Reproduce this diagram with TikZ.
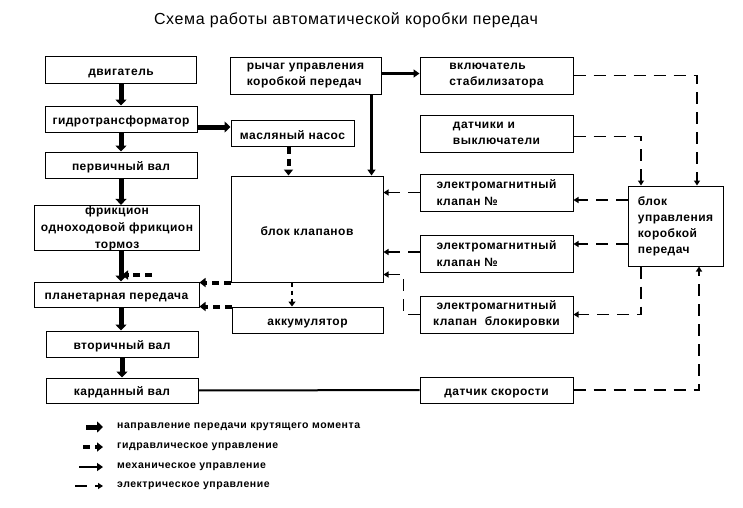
\documentclass[tikz,border=0pt]{standalone}
\usepackage{fontspec}
\setmainfont{Liberation Sans}
\newfontfamily\spacedfont[LetterSpace=4]{Liberation Sans}
\newfontfamily\legendfont[LetterSpace=5]{Liberation Sans}
\usetikzlibrary{arrows.meta,positioning,calc}

\tikzset{
  box/.style 2 args={draw,line width=1pt,minimum width=#1,minimum height=#2,
    inner sep=1pt,align=left,font=\spacedfont\bfseries\fontsize{12}{16.5}\selectfont,
    execute at begin node={\rule{0pt}{12.5pt}}},
  torque/.style={line width=5pt,-{Triangle[width=11pt,length=6pt]}},
  hydr/.style={line width=4pt,dash pattern=on 7pt off 5pt,-{Triangle[width=9pt,length=6pt]}},
  hydrthin/.style={line width=2.5pt,dash pattern=on 4pt off 4pt,-{Triangle[width=7pt,length=5pt]}},
  mech/.style={line width=2.5pt,-{Triangle[width=8pt,length=6pt]}},
  elec/.style={line width=1.6pt,dash pattern=on 12pt off 8pt,-{Triangle[width=6pt,length=5pt]}},
  legtext/.style={anchor=west,inner sep=0pt,font=\legendfont\bfseries\fontsize{10.5}{12}\selectfont}
}

\begin{document}
\begin{tikzpicture}[x=1pt,y=-1pt]
  \fill[white] (0,0) rectangle (743,507);
  \useasboundingbox (0,0) rectangle (743,507);

  \node[font=\spacedfont\fontsize{16}{19}\selectfont] (title) at (346,20) {Схема работы автоматической коробки передач};

  % left column
  \node[box={165pt}{44pt},align=center,execute at begin node={},inner sep=0pt] (frik) at (117,228) {фрикцион\\[0.5pt]одноходовой фрикцион\\[0.5pt]тормоз};
  \node[box={151pt}{27pt}] (dvig) at (121,70) {двигатель};
  \node[box={152pt}{26pt}] (gidro) at (121,119) {гидротрансформатор};
  \node[box={152pt}{26pt}] (perv) at (121,165) {первичный вал};
  \node[box={165pt}{25pt}] (planet) at (116.5,294.5) {планетарная передача};
  \node[box={152pt}{26pt}] (vtor) at (122,344) {вторичный вал};
  \node[box={152pt}{25pt}] (kard) at (122,390.5) {карданный вал};

  % middle column
  \node[box={151pt}{37pt}] (rychag) at (305.5,75.5) {рычаг управления\\коробкой передач};
  \node[box={123pt}{26pt}] (nasos) at (292.5,133) {масляный насос};
  \node[box={152pt}{106pt}] (klap) at (307,229) {блок клапанов};
  \node[box={151pt}{26pt}] (akk) at (307.5,320) {аккумулятор};

  % right columns
  \node[box={153pt}{37pt}] (vkl) at (496.5,75.5) {включатель\\стабилизатора};
  \node[box={153pt}{37pt}] (datch) at (496.5,133.5) {датчики и\\выключатели};
  \node[box={153pt}{37pt}] (em1) at (496.5,192.5) {электромагнитный\\клапан №};
  \node[box={153pt}{37pt}] (em2) at (496.5,253.5) {электромагнитный\\клапан №};
  \node[box={153pt}{37pt},align=center] (blok) at (496.5,314.5) {электромагнитный\\клапан\ \ блокировки};
  \node[box={95pt}{80pt},font=\spacedfont\bfseries\fontsize{12}{16}\selectfont] (upr) at (675.5,226) {блок\\управления\\коробкой\\передач};
  \node[box={153pt}{26pt}] (skor) at (496.5,390) {датчик скорости};

  % torque
  \draw[torque] (dvig) -- (gidro);
  \draw[torque] (gidro) -- (perv);
  \draw[torque] (perv.south) -- (perv.south |- frik.north);
  \draw[torque] (perv.south |- frik.south) -- (perv.south |- planet.north);
  \draw[torque] (perv.south |- planet.south) -- (perv.south |- vtor.north);
  \draw[torque] (vtor) -- (kard);
  \coordinate (g1) at ($(gidro.east)+(0,8)$);
  \draw[torque] (g1) -- (g1 -| nasos.west);

  % hydraulic
  \coordinate (n1) at ($(nasos.south)+(-4,0)$);
  \draw[hydr] (n1) -- (n1 |- klap.north);
  \draw[hydr] (klap.south west) -- (klap.south west -| planet.east);
  \draw[hydr] (akk.north west) -- (akk.north west -| planet.east);
  \coordinate (hs) at (152,275);
  \coordinate (he) at (122,275);
  \draw[hydr] (hs) -- (he);
  \coordinate (k1) at ($(klap.south)+(-15,0)$);
  \draw[hydrthin] (k1) -- (k1 |- akk.north);

  % mechanical
  \coordinate (r1) at ($(rychag.east)+(0,-2)$);
  \draw[mech] (r1) -- (r1 -| vkl.west);
  \coordinate (r2) at ($(rychag.south east)+(-10,0)$);
  \draw[mech] (r2) -- (r2 |- klap.north);
  \draw[line width=2pt] (kard) -- (skor);

  % electric
  \coordinate (u1) at ($(upr.north)+(21.5,0)$);
  \coordinate (u2) at ($(upr.north)+(-34.5,0)$);
  \coordinate (u3) at ($(upr.south)+(-34.5,0)$);
  \coordinate (u4) at ($(upr.south)+(23.5,0)$);
  \coordinate (d1) at ($(datch.east)+(0,3)$);
  \draw[elec] (vkl.east) -| (u1);
  \draw[elec] (d1) -| (u2);
  \coordinate (e1) at ($(em1.east)+(0,7.5)$);
  \draw[elec] (upr.west |- e1) -- (e1);
  \draw[elec] (em1.west) -- (em1.west -| klap.east);
  \coordinate (e2) at ($(em2.east)+(0,-9.5)$);
  \coordinate (e3) at ($(em2.west)+(0,-1.5)$);
  \draw[elec] (upr.west |- e2) -- (e2);
  \draw[elec] (e3) -- (e3 -| klap.east);
  \draw[elec] (u3) |- (blok.east);
  \coordinate (b1) at ($(klap.south east)+(0,-8)$);
  \draw[elec] (blok.west) -- ++(-16,0) |- (b1);
  \draw[elec] (skor.east) -| (u4);

  % legend
  \node[legtext] (lg1) at (117,427) {направление передачи крутящего момента};
  \node[legtext] (lg2) at (117,447) {гидравлическое управление};
  \node[legtext] (lg3) at (117,467) {механическое управление};
  \node[legtext] (lg4) at (117,486) {электрическое управление};
  \draw[torque] ($(lg1.west)+(-31,0)$) -- ($(lg1.west)+(-14,0)$);
  \draw[hydr] ($(lg2.west)+(-34,0)$) -- ($(lg2.west)+(-14,0)$);
  \draw[mech] ($(lg3.west)+(-38,0)$) -- ($(lg3.west)+(-14,0)$);
  \draw[elec] ($(lg4.west)+(-42,0)$) -- ($(lg4.west)+(-14,0)$);
\end{tikzpicture}
\end{document}
